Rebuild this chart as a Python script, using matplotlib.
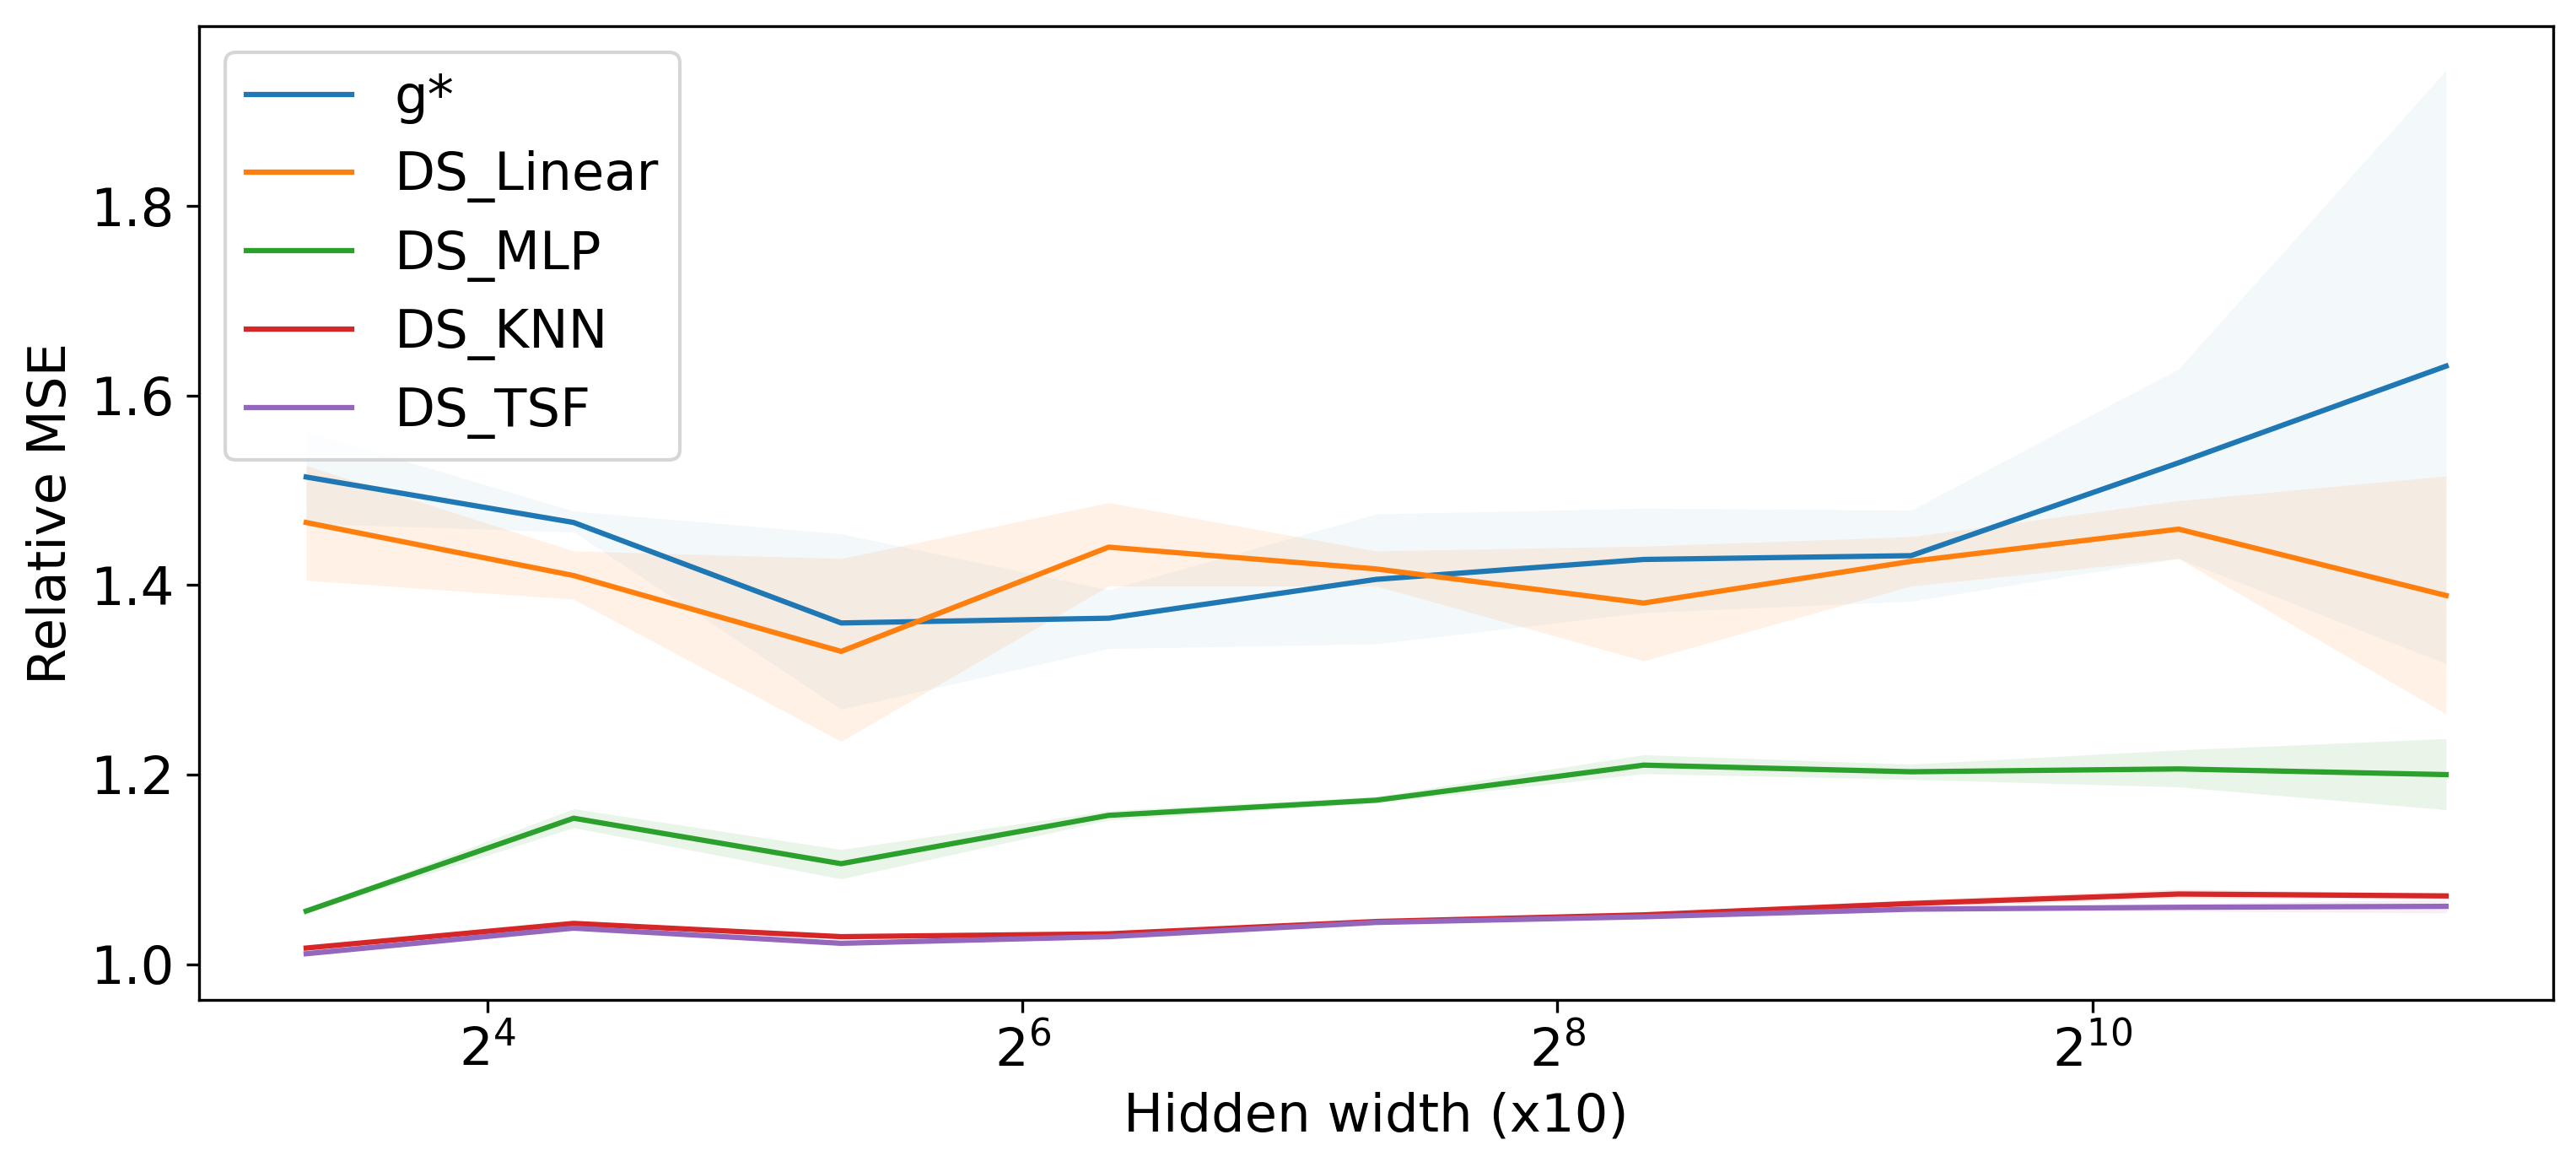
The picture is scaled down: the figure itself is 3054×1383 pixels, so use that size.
import matplotlib
matplotlib.use("Agg")
import matplotlib.pyplot as plt

# hidden width (x10)
widths = [10, 20, 40, 80, 160, 320, 640, 1280, 2560]
xtick_vals = [2 ** 4, 2 ** 6, 2 ** 8, 2 ** 10]

labels = ["g*", "DS_Linear", "DS_MLP", "DS_KNN", "DS_TSF"]

g_star = [1.514, 1.466, 1.360, 1.365, 1.406, 1.427, 1.431, 1.529, 1.631]
g_star_lo = [1.465, 1.456, 1.269, 1.333, 1.338, 1.371, 1.383, 1.428, 1.317]
g_star_hi = [1.562, 1.478, 1.454, 1.395, 1.475, 1.481, 1.479, 1.628, 1.943]

ds_linear = [1.466, 1.410, 1.330, 1.440, 1.417, 1.381, 1.425, 1.459, 1.389]
ds_linear_lo = [1.405, 1.385, 1.235, 1.399, 1.399, 1.320, 1.399, 1.428, 1.264]
ds_linear_hi = [1.526, 1.436, 1.428, 1.487, 1.436, 1.441, 1.451, 1.489, 1.515]

ds_mlp = [1.056, 1.154, 1.106, 1.157, 1.173, 1.210, 1.203, 1.206, 1.200]
ds_mlp_lo = [1.054, 1.144, 1.090, 1.152, 1.170, 1.201, 1.195, 1.187, 1.163]
ds_mlp_hi = [1.058, 1.164, 1.121, 1.162, 1.177, 1.221, 1.211, 1.226, 1.238]

ds_knn = [1.017, 1.043, 1.029, 1.032, 1.045, 1.052, 1.064, 1.074, 1.072]
ds_knn_lo = [1.015, 1.041, 1.027, 1.030, 1.043, 1.050, 1.060, 1.070, 1.069]
ds_knn_hi = [1.019, 1.045, 1.031, 1.034, 1.047, 1.054, 1.068, 1.079, 1.075]

ds_tsf = [1.011, 1.038, 1.022, 1.029, 1.044, 1.050, 1.058, 1.060, 1.061]
ds_tsf_lo = [1.009, 1.036, 1.020, 1.027, 1.042, 1.048, 1.056, 1.056, 1.054]
ds_tsf_hi = [1.013, 1.040, 1.024, 1.031, 1.046, 1.052, 1.060, 1.064, 1.068]

means = [g_star, ds_linear, ds_mlp, ds_knn, ds_tsf]
lows = [g_star_lo, ds_linear_lo, ds_mlp_lo, ds_knn_lo, ds_tsf_lo]
highs = [g_star_hi, ds_linear_hi, ds_mlp_hi, ds_knn_hi, ds_tsf_hi]
colors = ["#1f77b4", "#ff7f0e", "#2ca02c", "#d62728", "#9467bd"]
band_alpha = [0.05, 0.1, 0.1, 0.1, 0.1]

fig = plt.figure(figsize=(10.183, 4.61), dpi=300)
ax = fig.add_axes([0.0773, 0.1432, 0.9135, 0.8344])

for lab, m, lo, hi, c, a in zip(labels, means, lows, highs, colors, band_alpha):
    ax.plot(widths, m, color=c, lw=1.5, label=lab)
    ax.fill_between(widths, lo, hi, color=c, alpha=a, lw=0)

ax.set_xscale("log", base=2)
ax.set_xticks(xtick_vals)
ax.minorticks_off()
ax.set_xlabel("Hidden width (x10)", fontsize=15)
ax.set_ylabel("Relative MSE", fontsize=15)
ax.tick_params(labelsize=15)
ax.legend(loc="upper left", fontsize=15)

fig.savefig("out.png", dpi=300)
